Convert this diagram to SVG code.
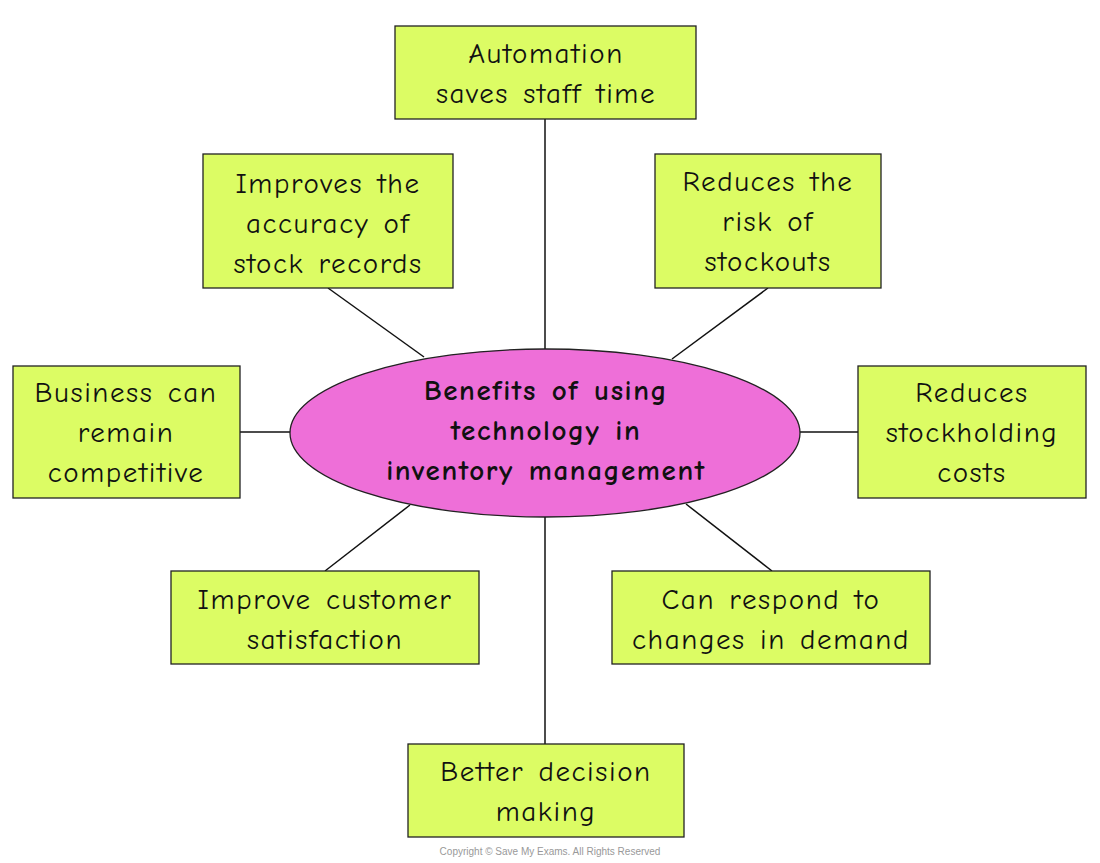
<svg xmlns="http://www.w3.org/2000/svg" width="1100" height="863" viewBox="0 0 1100 863">
<style>
.b{fill:#dcfc64;stroke:#222;stroke-width:1.3}
.t{font-family:"Comic Neue","Open Sans","Liberation Sans",sans-serif;font-size:29px;fill:#111;text-anchor:middle;letter-spacing:1.6px;word-spacing:3px}
.c{stroke:#111;stroke-width:1.5;fill:none}
</style>
<rect width="1100" height="863" fill="#fff"/>
<g id="connectors">
<line class="c" x1="545" y1="119" x2="545" y2="349"/>
<line class="c" x1="328" y1="288" x2="424" y2="357"/>
<line class="c" x1="768" y1="288" x2="672" y2="359"/>
<line class="c" x1="240" y1="432" x2="291" y2="432"/>
<line class="c" x1="800" y1="432" x2="858" y2="432"/>
<line class="c" x1="325" y1="571" x2="410" y2="505"/>
<line class="c" x1="772" y1="571" x2="686" y2="504"/>
<line class="c" x1="545" y1="517" x2="545" y2="744"/>
</g>
<g id="center">
<ellipse cx="545" cy="433" rx="255" ry="84" fill="#ee6fd8" stroke="#222" stroke-width="1.3"/>
<text class="t" font-weight="bold"><tspan x="546" y="400">Benefits of using</tspan><tspan x="546" y="440">technology in</tspan><tspan x="546" y="480">inventory management</tspan></text>
</g>
<g id="n1"><rect class="b" x="395" y="26" width="301" height="93"/><text class="t"><tspan x="546" y="63">Automation</tspan><tspan x="546" y="103">saves staff time</tspan></text></g>
<g id="n2"><rect class="b" x="203" y="154" width="250" height="134"/><text class="t"><tspan x="328" y="193">Improves the</tspan><tspan x="328" y="233">accuracy of</tspan><tspan x="328" y="273">stock records</tspan></text></g>
<g id="n3"><rect class="b" x="655" y="154" width="226" height="134"/><text class="t"><tspan x="768" y="191">Reduces the</tspan><tspan x="768" y="231">risk of</tspan><tspan x="768" y="271">stockouts</tspan></text></g>
<g id="n4"><rect class="b" x="13" y="366" width="227" height="132"/><text class="t"><tspan x="126" y="402">Business can</tspan><tspan x="126" y="442">remain</tspan><tspan x="126" y="482">competitive</tspan></text></g>
<g id="n5"><rect class="b" x="858" y="366" width="228" height="132"/><text class="t"><tspan x="972" y="402">Reduces</tspan><tspan x="972" y="442">stockholding</tspan><tspan x="972" y="482">costs</tspan></text></g>
<g id="n6"><rect class="b" x="171" y="571" width="308" height="93"/><text class="t"><tspan x="325" y="609">Improve customer</tspan><tspan x="325" y="649">satisfaction</tspan></text></g>
<g id="n7"><rect class="b" x="612" y="571" width="318" height="93"/><text class="t"><tspan x="771" y="609">Can respond to</tspan><tspan x="771" y="649">changes in demand</tspan></text></g>
<g id="n8"><rect class="b" x="408" y="744" width="276" height="93"/><text class="t"><tspan x="546" y="781">Better decision</tspan><tspan x="546" y="821">making</tspan></text></g>
<text x="550" y="855" font-family="Liberation Sans,sans-serif" font-size="10" fill="#999" text-anchor="middle">Copyright © Save My Exams. All Rights Reserved</text>
</svg>
